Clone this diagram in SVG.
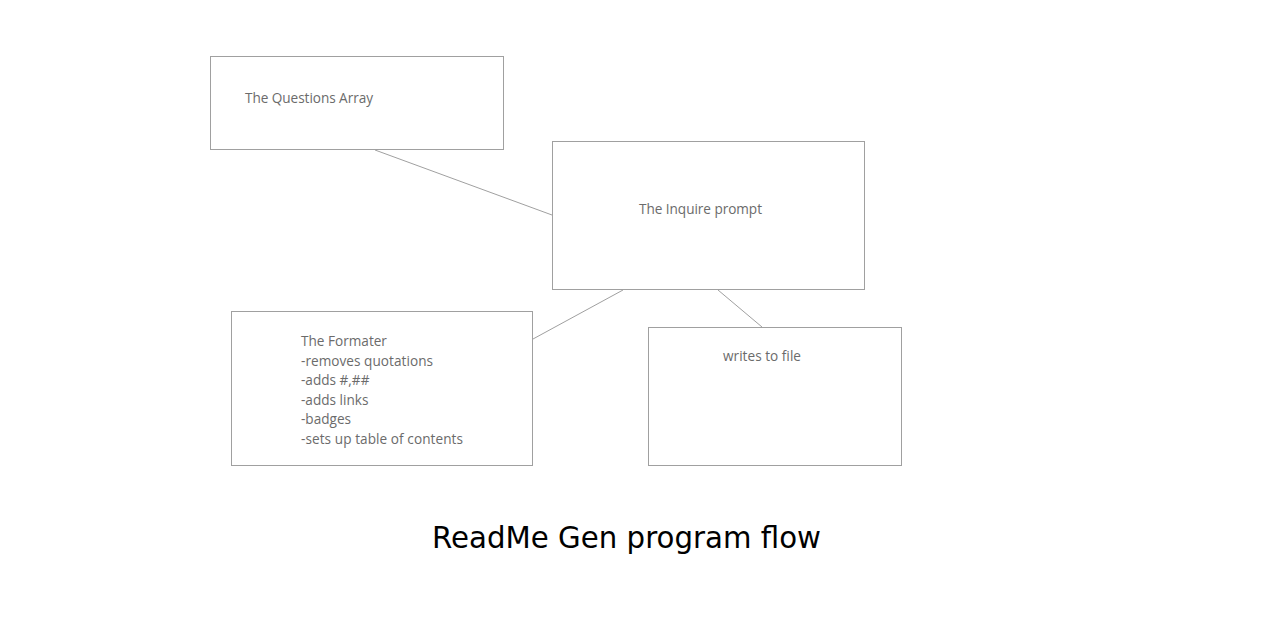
<svg xmlns="http://www.w3.org/2000/svg" width="1280" height="640" viewBox="0 0 1280 640">
<style>
.box{fill:#fff;stroke:#a0a0a0;stroke-width:1}
.lbl{font-family:"Open Sans","Noto Sans",sans-serif;font-size:13.6px;fill:#6b6b6b}
.con{stroke:#a0a0a0;stroke-width:1;fill:none}
.title{font-family:"Comic Sans MS","DejaVu Sans",sans-serif;font-size:31px;fill:#000}
</style>
<rect width="1280" height="640" fill="#fff"/>
<g id="connectors">
<line class="con" x1="375" y1="150" x2="552" y2="215"/>
<line class="con" x1="623" y1="290" x2="533" y2="339"/>
<line class="con" x1="718" y1="290" x2="762" y2="327"/>
</g>
<g id="questions">
<rect class="box" x="210.5" y="56.5" width="293" height="93"/>
<text class="lbl" x="245" y="103" textLength="128">The Questions Array</text>
</g>
<g id="inquire">
<rect class="box" x="552.5" y="141.5" width="312" height="148"/>
<text class="lbl" x="639" y="214" textLength="123">The Inquire prompt</text>
</g>
<g id="formater">
<rect class="box" x="231.5" y="311.5" width="301" height="154"/>
<text class="lbl" x="301" y="346">The Formater</text>
<text class="lbl" x="301" y="366" textLength="132">-removes quotations</text>
<text class="lbl" x="301" y="385">-adds #,##</text>
<text class="lbl" x="301" y="405">-adds links</text>
<text class="lbl" x="301" y="424">-badges</text>
<text class="lbl" x="301" y="444" textLength="162">-sets up table of contents</text>
</g>
<g id="writes">
<rect class="box" x="648.5" y="327.5" width="253" height="138"/>
<text class="lbl" x="723" y="361" textLength="78">writes to file</text>
</g>
<g id="title">
<text class="title" x="432" y="548" textLength="389" lengthAdjust="spacingAndGlyphs">ReadMe Gen program flow</text>
</g>
</svg>
